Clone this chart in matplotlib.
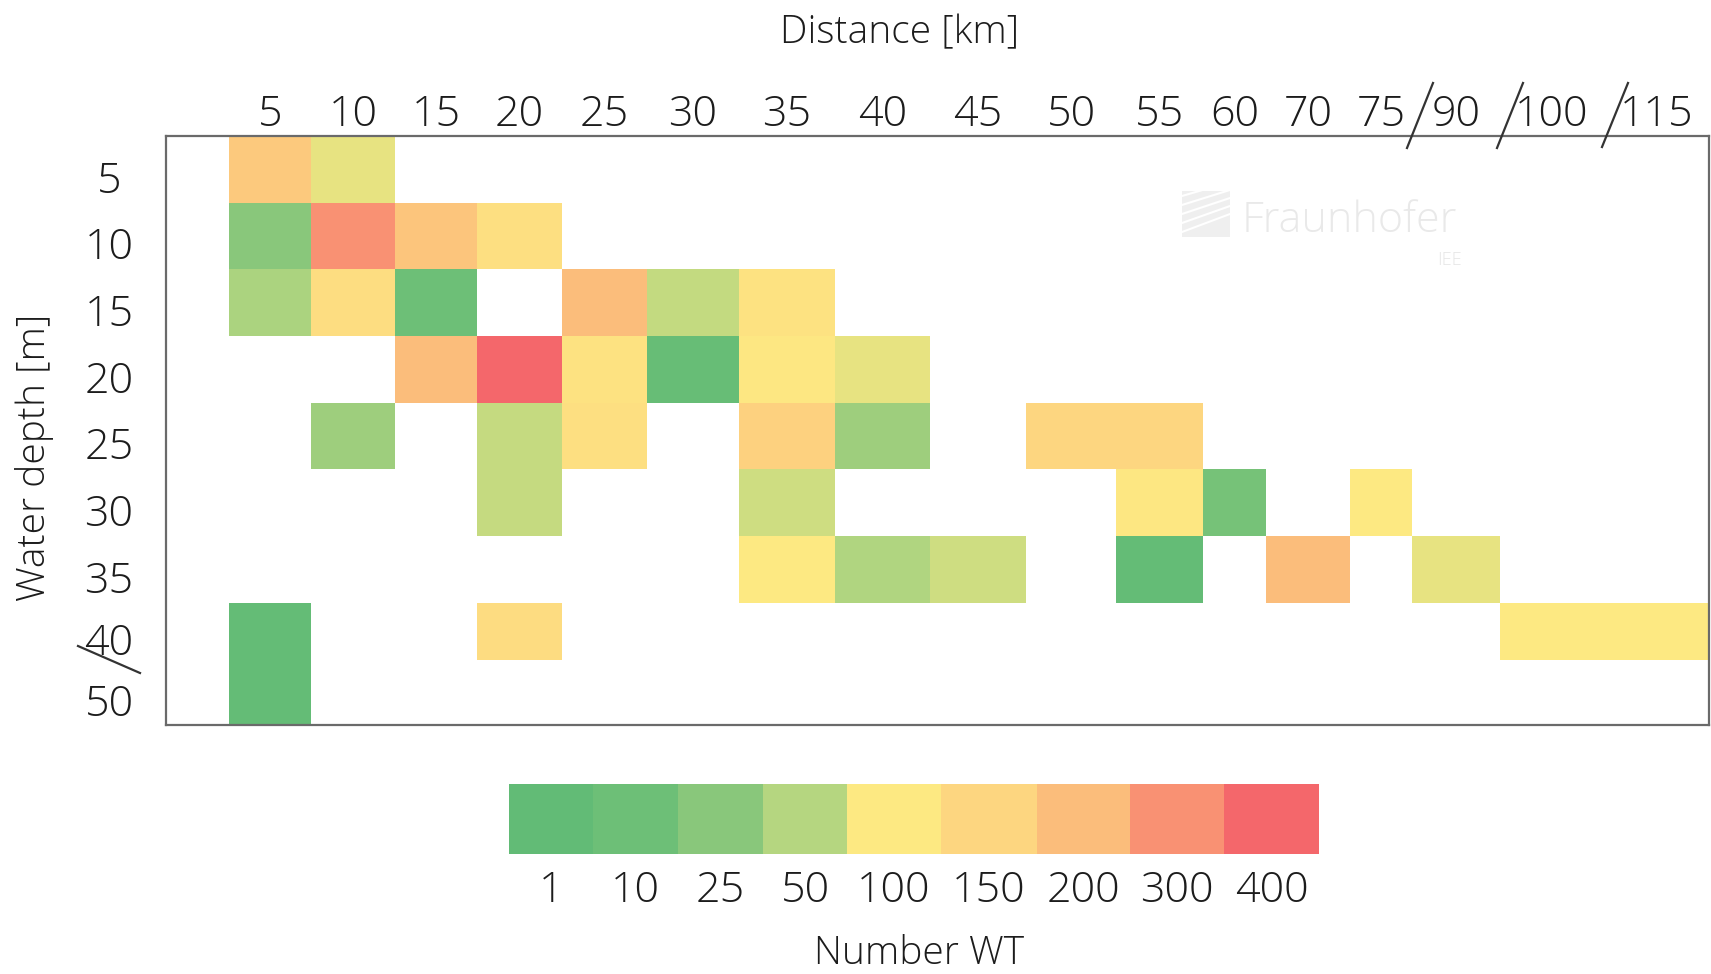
import numpy as np
import matplotlib
matplotlib.use("Agg")
import matplotlib.pyplot as plt
from matplotlib.colors import LinearSegmentedColormap, FuncNorm
from matplotlib.lines import Line2D
from matplotlib.patches import Rectangle
from matplotlib.transforms import ScaledTranslation

nan = np.nan

# ── data ──────────────────────────────────────────────────────────────────────
DISTANCE_KM = ["5", "10", "15", "20", "25", "30", "35", "40", "45", "50",
               "55", "60", "70", "75", "90", "100", "115"]
DEPTH_M = ["5", "10", "15", "20", "25", "30", "35", "40", "50"]

LEVELS = [1, 10, 25, 50, 100, 150, 200, 300, 400]
LEVEL_COLORS = ["#62bb76", "#6dbf77", "#89c77b", "#b4d680", "#fde982",
                "#fdd680", "#fbbe7b", "#f99273", "#f4676b"]

# number of wind turbines per cell, one list per depth row (columns = DISTANCE_KM)
WT_D5  = [175, 85, nan, nan, nan, nan, nan, nan, nan, nan, nan, nan, nan, nan, nan, nan, nan]
WT_D10 = [25, 300, 185, 125, nan, nan, nan, nan, nan, nan, nan, nan, nan, nan, nan, nan, nan]
WT_D15 = [45, 130, 10, nan, 200, 60, 120, nan, nan, nan, nan, nan, nan, nan, nan, nan, nan]
WT_D20 = [nan, nan, 200, 400, 120, 5, 105, 85, nan, nan, nan, nan, nan, nan, nan, nan, nan]
WT_D25 = [nan, 37, nan, 62, 125, nan, 160, 37, nan, 150, 150, nan, nan, nan, nan, nan, nan]
WT_D30 = [nan, nan, nan, 62, nan, nan, 68, nan, nan, nan, 105, 15, nan, 100, nan, nan, nan]
WT_D35 = [nan, nan, nan, nan, nan, nan, 100, 48, 68, nan, 3, nan, 200, nan, 85, nan, nan]
WT_D40 = [3, nan, nan, 135, nan, nan, nan, nan, nan, nan, nan, nan, nan, nan, nan, 100, 100]
WT_D50 = [3, nan, nan, nan, nan, nan, nan, nan, nan, nan, nan, nan, nan, nan, nan, nan, nan]

# ── layout (pixel units of the 1711x974 canvas) ──────────────────────────────
W, H = 1711, 974
X_EDGES = [63, 145, 229, 311, 396, 481, 573, 669, 764, 860, 950, 1037,
           1100, 1184, 1246, 1334, 1438, 1543]          # frame is 0..1543
Y_EDGES = [0, 67, 133, 200, 267, 333, 400, 467, 524, 589]  # frame is 0..589
CB_EDGES = [0, 84, 169, 254, 338, 432, 528, 621, 715, 810]

FONT = "Open Sans"
TXT = "#1c1c1c"


def fx(x):
    return x / W


def fy(y):
    return 1 - y / H


grid = np.array([WT_D5, WT_D10, WT_D15, WT_D20, WT_D25,
                 WT_D30, WT_D35, WT_D40, WT_D50], dtype=float)

idx = np.arange(len(LEVELS))
norm = FuncNorm((lambda v: np.interp(v, LEVELS, idx),
                 lambda t: np.interp(t, idx, LEVELS)),
                vmin=LEVELS[0], vmax=LEVELS[-1])
cmap = LinearSegmentedColormap.from_list("wt", LEVEL_COLORS)
cmap.set_bad((1, 1, 1, 0))

plt.rcParams["font.family"] = [FONT, "DejaVu Sans"]
plt.rcParams["font.weight"] = "light"

fig = plt.figure(figsize=(W / 100, H / 100), dpi=100)
fig.patch.set_facecolor("white")

ax = fig.add_axes([fx(166), fy(725), (1709 - 166) / W, (725 - 136) / H])
ax.pcolormesh(X_EDGES, Y_EDGES, grid, cmap=cmap, norm=norm,
              edgecolors="none", antialiased=False, zorder=2)
ax.set_xlim(0, 1543)
ax.set_ylim(589, 0)

xc = [(a + b) / 2 for a, b in zip(X_EDGES[:-1], X_EDGES[1:])]
yc = [(a + b) / 2 for a, b in zip(Y_EDGES[:-1], Y_EDGES[1:])]
ax.xaxis.tick_top()
ax.set_xticks(xc)
ax.set_xticklabels(DISTANCE_KM)
ax.set_yticks(yc)
ax.set_yticklabels(DEPTH_M)
ax.tick_params(axis="x", length=0, pad=0, labelsize=31, colors=TXT)
ax.tick_params(axis="y", length=0, pad=41, labelsize=31, colors=TXT)
for lbl in ax.get_yticklabels():
    lbl.set_ha("center")
    lbl.set_transform(lbl.get_transform()
                      + ScaledTranslation(0, -5 / 72, fig.dpi_scale_trans))
for s in ax.spines.values():
    s.set_color("#6a6a6a")
    s.set_linewidth(1.6)

# axis titles
fig.text(fx(900), fy(33), "Distance [km]", ha="center", va="center",
         fontsize=28, color=TXT)
fig.text(fx(35), fy(457), "Water depth [m]", ha="center", va="center",
         rotation=90, fontsize=28, color=TXT)

# axis break marks
for (x0, y0, x1, y1) in [(1407, 148, 1433, 83), (1497, 148, 1523, 83),
                         (1602, 147, 1628, 83), (78, 646, 140, 673)]:
    fig.add_artist(Line2D([fx(x0), fx(x1)], [fy(y0), fy(y1)],
                          transform=fig.transFigure, color="#333333", lw=1.6))

# faint watermark
fig.add_artist(Rectangle((fx(1182), fy(237)), (1230 - 1182) / W, (237 - 191) / H,
                         transform=fig.transFigure, facecolor="#efefef",
                         edgecolor="none", zorder=1))
for k in range(5):
    fig.add_artist(Line2D([fx(1182), fx(1230)],
                          [fy(232 - 9 * k), fy(214 - 8 * k)],
                          transform=fig.transFigure, color="white", lw=1.5, zorder=1))
fig.text(fx(1242), fy(221), "Fraunhofer", ha="left", va="center",
         fontsize=31, color="#e9e9e9", zorder=1)
fig.text(fx(1462), fy(260), "IEE", ha="right", va="center",
         fontsize=13, color="#e6e6e6", zorder=1)

# colour legend
cax = fig.add_axes([fx(509), fy(854), 810 / W, (854 - 784) / H])
cax.pcolormesh(CB_EDGES, [0, 1], [LEVELS], cmap=cmap, norm=norm,
               edgecolors="none", antialiased=False)
cax.set_xlim(0, 810)
cax.set_ylim(0, 1)
cc = [(a + b) / 2 for a, b in zip(CB_EDGES[:-1], CB_EDGES[1:])]
cax.set_xticks(cc)
cax.set_xticklabels([str(v) for v in LEVELS])
cax.set_yticks([])
cax.tick_params(axis="x", length=0, pad=11, labelsize=31, colors=TXT)
for s in cax.spines.values():
    s.set_visible(False)

fig.text(fx(919), fy(954), "Number WT", ha="center", va="center",
         fontsize=28, color=TXT)

fig.savefig("out.png", dpi=100, facecolor="white")
